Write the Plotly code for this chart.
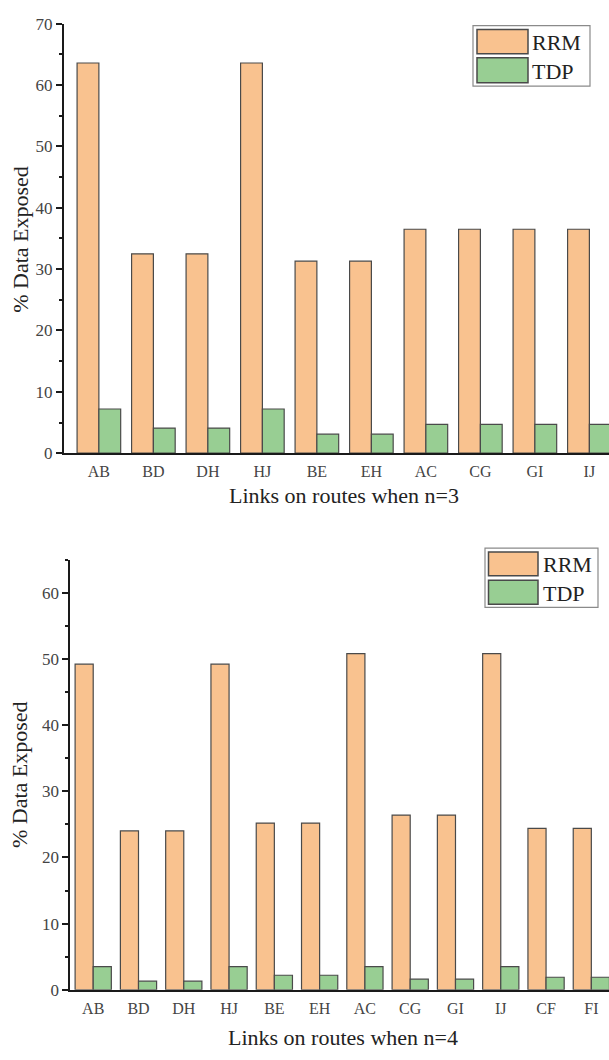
import plotly.graph_objects as go

# ---------------- data ----------------
links_n3 = ["AB", "BD", "DH", "HJ", "BE", "EH", "AC", "CG", "GI", "IJ"]
rrm_n3 = [63.6, 32.5, 32.5, 63.6, 31.3, 31.3, 36.5, 36.5, 36.5, 36.5]
tdp_n3 = [7.2, 4.1, 4.1, 7.2, 3.1, 3.1, 4.7, 4.7, 4.7, 4.7]

links_n4 = ["AB", "BD", "DH", "HJ", "BE", "EH", "AC", "CG", "GI", "IJ", "CF", "FI"]
rrm_n4 = [49.2, 24.0, 24.0, 49.2, 25.2, 25.2, 50.8, 26.4, 26.4, 50.8, 24.4, 24.4]
tdp_n4 = [3.5, 1.3, 1.3, 3.5, 2.2, 2.2, 3.5, 1.6, 1.6, 3.5, 1.9, 1.9]

series_names = ["RRM", "TDP"]
y_ticks_n3 = [0, 10, 20, 30, 40, 50, 60, 70]
y_ticks_n4 = [0, 10, 20, 30, 40, 50, 60]

# ---------------- style ----------------
W, H = 609, 1060
C_RRM = "#F9C28F"
C_TDP = "#98CE93"
EDGE = "#4a4a4a"
FONT = "Liberation Serif, Times New Roman, serif"


def px_x(p):
    return p / W


def px_y(p):
    return 1 - p / H


fig = go.Figure()

fig.add_trace(go.Bar(x=links_n3, y=rrm_n3, name=series_names[0], marker=dict(color=C_RRM, line=dict(color=EDGE, width=1.2)),
                     xaxis="x", yaxis="y", showlegend=False))
fig.add_trace(go.Bar(x=links_n3, y=tdp_n3, name=series_names[1], marker=dict(color=C_TDP, line=dict(color=EDGE, width=1.2)),
                     xaxis="x", yaxis="y", showlegend=False))
fig.add_trace(go.Bar(x=links_n4, y=rrm_n4, name=series_names[0], marker=dict(color=C_RRM, line=dict(color=EDGE, width=1.2)),
                     xaxis="x2", yaxis="y2", showlegend=False))
fig.add_trace(go.Bar(x=links_n4, y=tdp_n4, name=series_names[1], marker=dict(color=C_TDP, line=dict(color=EDGE, width=1.2)),
                     xaxis="x2", yaxis="y2", showlegend=False))

xcommon = dict(showline=True, linecolor="#1a1a1a", linewidth=2, ticks="", showgrid=False,
               zeroline=False, tickfont=dict(family=FONT, size=16, color="#444"), ticklabelstandoff=3)
ycommon = dict(showline=True, linecolor="#1a1a1a", linewidth=2, ticks="outside", ticklen=6, tickwidth=2,
               tickcolor="#1a1a1a", showgrid=False, zeroline=False,
               tickfont=dict(family=FONT, size=17, color="#444"),
               minor=dict(ticks="outside", ticklen=3, tickwidth=1.5, tickcolor="#1a1a1a", dtick=5, showgrid=False))

fig.update_layout(
    width=W, height=H,
    margin=dict(l=0, r=0, t=0, b=0),
    paper_bgcolor="white", plot_bgcolor="white",
    barmode="group", bargap=0.2, bargroupgap=0,
    xaxis=dict(domain=[px_x(64), 1.0], anchor="y", range=[-0.64, 9.36], **xcommon),
    yaxis=dict(domain=[px_y(452.3), px_y(15)], anchor="x", range=[0, 70], tickvals=y_ticks_n3, **ycommon),
    xaxis2=dict(domain=[px_x(70.3), 1.0], anchor="y2", range=[-0.506, 11.39], **xcommon),
    yaxis2=dict(domain=[px_y(998.7), px_y(560.7)], anchor="x2", range=[0, 65], tickvals=y_ticks_n4, **ycommon),
)

# axis titles
title_font = dict(family=FONT, size=22, color="#222")
annots = [
    dict(text="Links on routes when n=3", x=px_x(344), y=px_y(495), xref="paper", yref="paper",
         showarrow=False, font=title_font, xanchor="center", yanchor="middle"),
    dict(text="Links on routes when n=4", x=px_x(343), y=px_y(1047), xref="paper", yref="paper",
         showarrow=False, font=title_font, xanchor="center", yanchor="middle"),
    dict(text="% Data Exposed", x=px_x(21), y=px_y(235), xref="paper", yref="paper", textangle=-90,
         showarrow=False, font=title_font, xanchor="center", yanchor="middle"),
    dict(text="% Data Exposed", x=px_x(19), y=px_y(780), xref="paper", yref="paper", textangle=-90,
         showarrow=False, font=title_font, xanchor="center", yanchor="middle"),
]

# custom legends (large swatches, boxed)
shapes = []


def add_legend(box, sw_x, rows, text_x):
    x0, y0, x1, y1 = box
    shapes.append(dict(type="rect", xref="paper", yref="paper", x0=px_x(x0), x1=px_x(x1),
                       y0=px_y(y1), y1=px_y(y0), line=dict(color="#8a8a8a", width=1.2),
                       fillcolor="white", layer="above"))
    for name, color, (ry0, ry1) in rows:
        shapes.append(dict(type="rect", xref="paper", yref="paper", x0=px_x(sw_x[0]), x1=px_x(sw_x[1]),
                           y0=px_y(ry1), y1=px_y(ry0), line=dict(color=EDGE, width=1.5),
                           fillcolor=color, layer="above"))
        annots.append(dict(text=name, x=px_x(text_x), y=px_y((ry0 + ry1) / 2 + 1), xref="paper", yref="paper",
                           showarrow=False, xanchor="left", yanchor="middle",
                           font=dict(family=FONT, size=22, color="#222")))


add_legend((473, 17, 590, 78.5), (477, 528),
           [(series_names[0], C_RRM, (21, 45.6)), (series_names[1], C_TDP, (49.7, 75))], 530)
add_legend((485, 549, 598, 609.3), (488.5, 538),
           [(series_names[0], C_RRM, (553, 577)), (series_names[1], C_TDP, (581.7, 606))], 541)

fig.update_layout(annotations=annots, shapes=shapes)

fig.write_html("out.html", config={"displayModeBar": False},
               post_script="document.body.style.margin='0';document.body.style.overflow='hidden';")
